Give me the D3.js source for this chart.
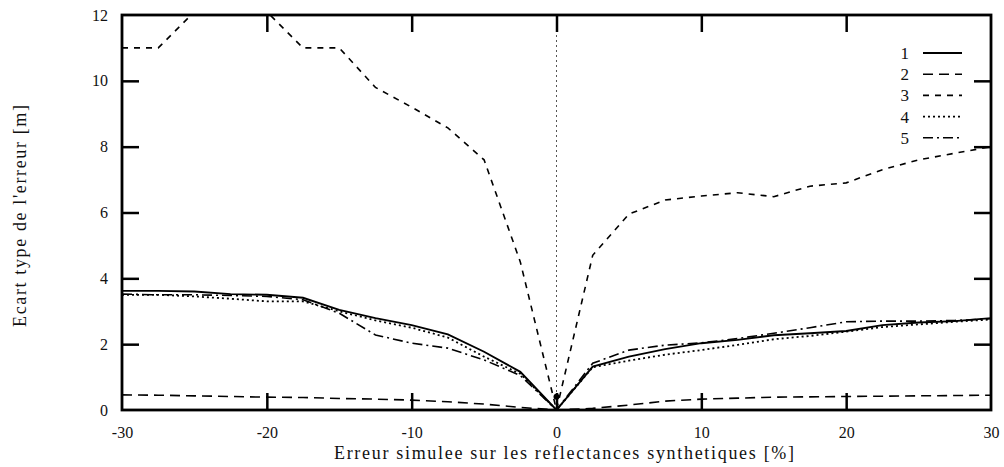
<!DOCTYPE html>
<html><head><meta charset="utf-8">
<script src="https://cdn.jsdelivr.net/npm/d3@7"></script>
<style>body{margin:0;background:#fff}svg{display:block}text{font-family:"Liberation Serif","DejaVu Serif",serif;fill:#111}</style>
</head><body>
<svg id="c" width="1004" height="467" font-family="Liberation Serif, serif"></svg>
<script>
const xValues = [-30,-27.5,-25,-22.5,-20,-17.5,-15,-12.5,-10,-7.5,-5,-2.5,0,2.5,5,7.5,10,12.5,15,17.5,20,22.5,25,27.5,30];
const series1 = [3.62,3.62,3.6,3.52,3.5,3.41,3.04,2.79,2.58,2.3,1.77,1.16,0,1.32,1.62,1.85,2.03,2.13,2.27,2.33,2.4,2.58,2.66,2.7,2.79];
const series2 = [0.46,0.45,0.43,0.41,0.39,0.38,0.35,0.33,0.3,0.25,0.18,0.08,0,0.05,0.15,0.27,0.33,0.36,0.39,0.4,0.41,0.42,0.43,0.44,0.45];
const series3 = [11,11,12.1,12.4,12.1,11,11,9.8,9.2,8.57,7.6,4.5,0,4.7,5.95,6.38,6.5,6.6,6.48,6.8,6.9,7.3,7.6,7.8,8.0];
const series4 = [3.5,3.5,3.45,3.38,3.3,3.3,3.0,2.72,2.5,2.2,1.62,1.1,0,1.3,1.5,1.68,1.82,1.98,2.15,2.25,2.38,2.52,2.6,2.68,2.75];
const series5 = [3.52,3.5,3.5,3.48,3.45,3.35,2.94,2.28,2.03,1.88,1.52,1.05,0,1.42,1.82,1.97,2.04,2.17,2.33,2.5,2.68,2.7,2.7,2.72,2.77];
const seriesNames = ["1","2","3","4","5"];
const xTicks = [-30,-20,-10,0,10,20,30];
const yTicks = [0,2,4,6,8,10,12];
const centerMarker = [{x:0,y:0.4}];

const allSeries = [series1,series2,series3,series4,series5];
const dashes = [null,"10,6","6,6","2,3","10,4,2,4"];
const widths = [1.9,1.6,1.6,1.8,1.6];
const serif = '"Liberation Serif","DejaVu Serif",serif';

const svg = d3.select("#c");
const m = {l:122,r:1004-991,t:15,b:467-410};
const W = 1004, H = 467;
const x = d3.scaleLinear().domain([-30,30]).range([m.l, W-m.r]);
const y = d3.scaleLinear().domain([0,12]).range([H-m.b, m.t]);

svg.append("defs").append("clipPath").attr("id","clip")
  .append("rect").attr("x",m.l).attr("y",m.t).attr("width",W-m.r-m.l).attr("height",H-m.b-m.t);

// zero line
svg.append("line").attr("x1",x(0)).attr("x2",x(0)).attr("y1",y(12)).attr("y2",y(0))
  .attr("stroke","#555").attr("stroke-width",1).attr("stroke-dasharray","2,3");

// axes with inward ticks
const tl = 17;
const fmt = d => String(d);
const gB = svg.append("g").attr("transform",`translate(0,${y(0)})`)
  .call(d3.axisBottom(x).tickValues(xTicks).tickSize(-tl).tickPadding(17).tickFormat(fmt));
const gT = svg.append("g").attr("transform",`translate(0,${y(12)})`)
  .call(d3.axisTop(x).tickValues(xTicks).tickSize(-tl).tickFormat(""));
const gL = svg.append("g").attr("transform",`translate(${x(-30)},0)`)
  .call(d3.axisLeft(y).tickValues(yTicks).tickSize(-tl).tickPadding(14).tickFormat(fmt));
const gR = svg.append("g").attr("transform",`translate(${x(30)},0)`)
  .call(d3.axisRight(y).tickValues(yTicks).tickSize(-tl).tickFormat(""));
[gB,gT,gL,gR].forEach(g=>{
  g.attr("font-family",serif).attr("font-size",16);
  g.select(".domain").remove();
  g.selectAll(".tick line").attr("stroke","#000").attr("stroke-width",2.5);
  g.selectAll(".tick text").attr("fill","#111").style("font-family",serif).style("font-size","16px");
});
gB.selectAll(".tick").filter(d=>d===-30||d===30).select("line").remove();
gT.selectAll(".tick").filter(d=>d===-30||d===30).select("line").remove();
gL.selectAll(".tick").filter(d=>d===0||d===12).select("line").remove();
gR.selectAll(".tick").filter(d=>d===0||d===12).select("line").remove();

svg.append("rect").attr("x",x(-30)).attr("y",y(12)).attr("width",x(30)-x(-30)).attr("height",y(0)-y(12))
  .attr("fill","none").attr("stroke","#000").attr("stroke-width",2.8);

// lines
const line = d3.line().x((d,i)=>x(xValues[i])).y(d=>y(d));
const gLines = svg.append("g").attr("clip-path","url(#clip)");
allSeries.forEach((s,k)=>{
  gLines.append("path").datum(s).attr("d",line).attr("fill","none").attr("stroke","#000")
    .attr("stroke-width",widths[k]).attr("stroke-dasharray",dashes[k]);
});
svg.selectAll(".mk").data(centerMarker).enter().append("circle")
  .attr("cx",d=>x(d.x)).attr("cy",d=>y(d.y)).attr("r",3).attr("fill","#000");

// legend
const lg = svg.append("g");
seriesNames.forEach((n,k)=>{
  const yy = 53 + k*21.2;
  lg.append("text").attr("x",909).attr("y",yy+6).attr("text-anchor","end").style("font-size","17px").style("font-family",serif).text(n);
  lg.append("line").attr("x1",923).attr("x2",962).attr("y1",yy).attr("y2",yy)
    .attr("stroke","#000").attr("stroke-width",widths[k]).attr("stroke-dasharray",dashes[k]);
});

// labels
svg.append("text").attr("x",564).attr("y",459).attr("text-anchor","middle")
  .style("font-size","18px").style("font-family",serif)
  .attr("textLength",460).attr("lengthAdjust","spacing")
  .text("Erreur simulee sur les reflectances synthetiques [%]");
svg.append("text").attr("transform",`translate(26,216) rotate(-90)`).attr("text-anchor","middle")
  .style("font-size","18px").style("font-family",serif)
  .attr("textLength",222).attr("lengthAdjust","spacing")
  .text("Ecart type de l'erreur [m]");
</script>
</body></html>
